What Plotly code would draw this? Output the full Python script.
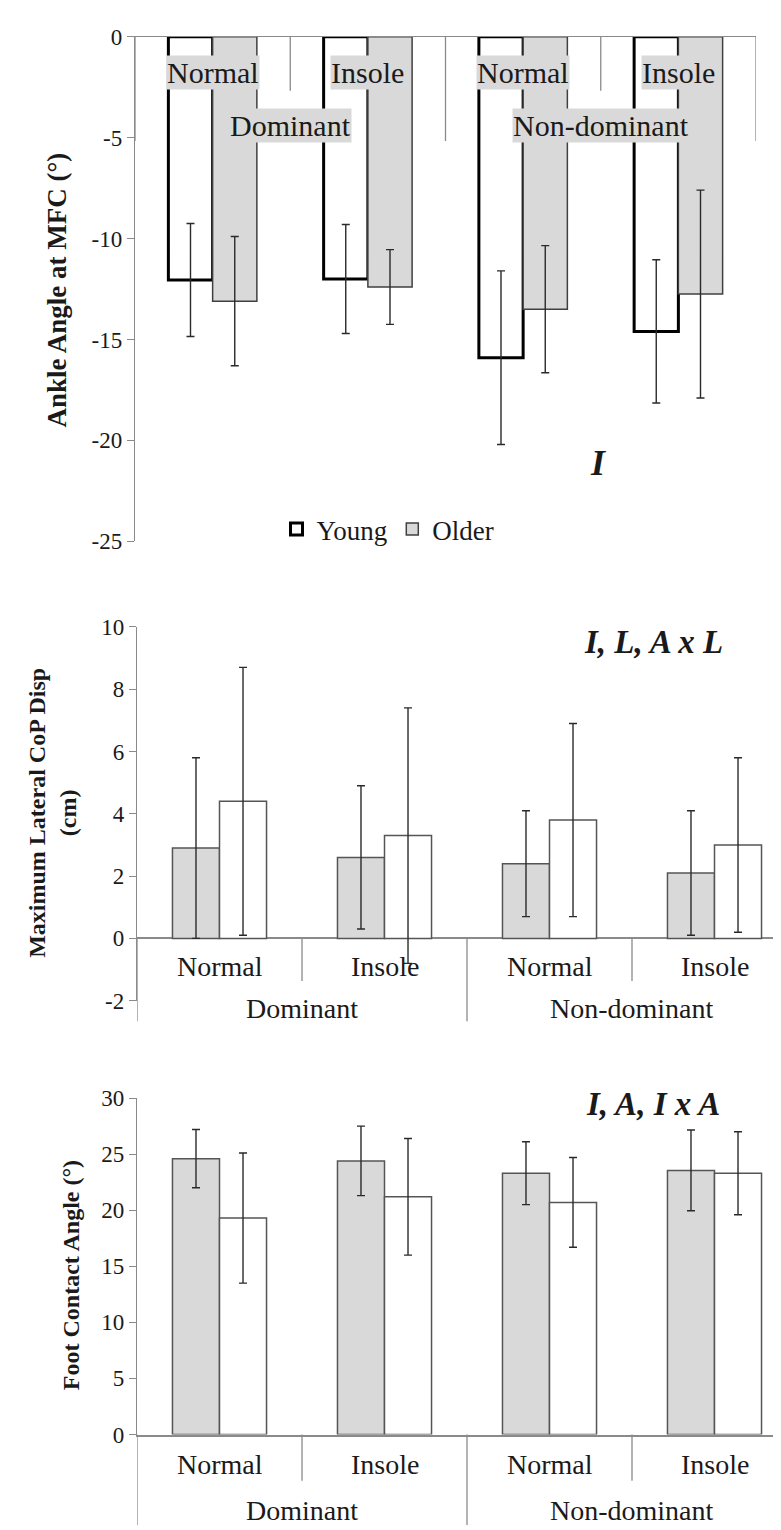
import plotly.graph_objects as go

W, H = 781, 1530

# ---------------- data ----------------
categories = ["Normal", "Insole", "Normal", "Insole"]
groups = ["Dominant", "Non-dominant"]

# Panel 1: Ankle angle at MFC (deg)
ankle_young = [-12.05, -12.0, -15.9, -14.6]
ankle_young_sd = [2.8, 2.7, 4.3, 3.55]
ankle_older = [-13.1, -12.4, -13.5, -12.75]
ankle_older_sd = [3.2, 1.85, 3.15, 5.15]

# Panel 2: Maximum lateral CoP displacement (cm)
cop_first = [2.9, 2.6, 2.4, 2.1]
cop_first_sd = [2.9, 2.3, 1.7, 2.0]
cop_second = [4.4, 3.3, 3.8, 3.0]
cop_second_sd = [4.3, 4.1, 3.1, 2.8]

# Panel 3: Foot contact angle (deg)
fca_first = [24.6, 24.4, 23.3, 23.55]
fca_first_sd = [2.6, 3.1, 2.8, 3.6]
fca_second = [19.3, 21.2, 20.7, 23.3]
fca_second_sd = [5.8, 5.2, 4.0, 3.7]

ticks1 = [0, -5, -10, -15, -20, -25]
ticktext1 = ["0", "-5", "-10", "-15", "-20", "-25"]
ticks2 = [-2, 0, 2, 4, 6, 8, 10]
ticktext2 = ["-2", "0", "2", "4", "6", "8", "10"]
ticks3 = [0, 5, 10, 15, 20, 25, 30]
ticktext3 = ["0", "5", "10", "15", "20", "25", "30"]

titles = ["Ankle Angle at MFC (°)",
          "Maximum Lateral CoP Disp<br>(cm)",
          "Foot Contact Angle (°)"]
effects = ["I", "I, L, A x L", "I, A, I x A"]

# ---------------- style ----------------
FONT = "serif"
TXT = "#1a1a1a"
AXC = "#8a8a8a"
GRAY = "#d9d9d9"
EDGE = "#555555"
ERR = "#2a2a2a"


def fnt(size, weight="normal", style="normal", family=FONT):
    return dict(family=family, size=size, color=TXT, weight=weight, style=style)


def py(px):
    """pixel row -> paper fraction"""
    return 1 - px / H


def px_x(px):
    return px / W


fig = go.Figure()
xs = list(range(len(categories)))


def err(arr):
    return dict(type="data", array=arr, visible=True, color=ERR, thickness=1.4, width=4)


# panel 1
fig.add_trace(go.Bar(x=xs, y=ankle_young, error_y=err(ankle_young_sd), name="Young",
                     marker=dict(color="white", line=dict(color="black", width=3)),
                     xaxis="x", yaxis="y", showlegend=True))
fig.add_trace(go.Bar(x=xs, y=ankle_older, error_y=err(ankle_older_sd), name="Older",
                     marker=dict(color=GRAY, line=dict(color="#404040", width=1.5)),
                     xaxis="x", yaxis="y", showlegend=True))
# panel 2
fig.add_trace(go.Bar(x=xs, y=cop_first, error_y=err(cop_first_sd), name="Young",
                     marker=dict(color=GRAY, line=dict(color=EDGE, width=1.5)),
                     xaxis="x2", yaxis="y2", showlegend=False))
fig.add_trace(go.Bar(x=xs, y=cop_second, error_y=err(cop_second_sd), name="Older",
                     marker=dict(color="white", line=dict(color=EDGE, width=1.5)),
                     xaxis="x2", yaxis="y2", showlegend=False))
# panel 3
fig.add_trace(go.Bar(x=xs, y=fca_first, error_y=err(fca_first_sd), name="Young",
                     marker=dict(color=GRAY, line=dict(color=EDGE, width=1.5)),
                     xaxis="x3", yaxis="y3", showlegend=False))
fig.add_trace(go.Bar(x=xs, y=fca_second, error_y=err(fca_second_sd), name="Older",
                     marker=dict(color="white", line=dict(color=EDGE, width=1.5)),
                     xaxis="x3", yaxis="y3", showlegend=False))

# axis geometry
dom_y1 = [py(530), py(17)]
dom_y2 = [py(997), py(617)]
dom_y3 = [py(1438), py(1096)]
rng_y1 = [-25, 0]
rng_y2 = [-2, 10]
rng_y3 = [0, 30]
dom_x1 = [px_x(127), px_x(748)]
dom_x23 = [px_x(129), 1.0]
cw = 165.0
rng_x23 = [-0.5, -0.5 + (W - 129) / cw]

yaxis_common = dict(showline=True, linecolor=AXC, linewidth=1.3, ticks="outside",
                    ticklen=7, tickcolor=AXC, tickwidth=1.3, showgrid=False,
                    tickfont=fnt(23))
xaxis_common = dict(showgrid=False, showticklabels=False, ticks="", zeroline=False)

fig.update_layout(
    xaxis=dict(domain=dom_x1, range=[-0.5, 3.5], anchor="y", side="top", showline=True,
               linecolor=AXC, linewidth=1.3, **xaxis_common),
    yaxis=dict(domain=dom_y1, range=rng_y1, anchor="x", tickvals=ticks1, ticktext=ticktext1,
               zeroline=False, **yaxis_common),
    xaxis2=dict(domain=dom_x23, range=rng_x23, anchor="y2", showline=False, **xaxis_common),
    yaxis2=dict(domain=dom_y2, range=rng_y2, anchor="x2", tickvals=ticks2, ticktext=ticktext2,
                zeroline=True, zerolinecolor=AXC, zerolinewidth=1.5, **yaxis_common),
    xaxis3=dict(domain=dom_x23, range=rng_x23, anchor="y3", side="bottom", showline=True,
                linecolor=AXC, linewidth=1.5, **xaxis_common),
    yaxis3=dict(domain=dom_y3, range=rng_y3, anchor="x3", tickvals=ticks3, ticktext=ticktext3,
                zeroline=False, **yaxis_common),
)


def val2paper(v, dom, rng):
    return dom[0] + (v - rng[0]) / (rng[1] - rng[0]) * (dom[1] - dom[0])


shapes = []
annotations = []

panels = [
    # xref, dom_y, rng_y, short_end_px, long_end_px, cat_label_px, group_label_px, fontsize, bg
    ("x", dom_y1, rng_y1, 72, 123, 53, 107, 30, GRAY),
    ("x2", dom_y2, rng_y2, 977, 1018, 962, 1005, 28, None),
    ("x3", dom_y3, rng_y3, 1485, 1530, 1468, 1515, 28, None),
]

for xref, dy, ry, s_end, l_end, cat_px, grp_px, fs, bg in panels:
    y0 = val2paper(0, dy, ry)
    for xb in [-0.5, 0.5, 1.5, 2.5, 3.5]:
        is_long = xb in (-0.5, 1.5, 3.5)
        shapes.append(dict(type="line", xref=xref, yref="paper", x0=xb, x1=xb,
                           y0=y0, y1=py(l_end if is_long else s_end),
                           line=dict(color=AXC, width=1.3), layer="below"))
    for i, c in enumerate(categories):
        a = dict(x=i, y=py(cat_px), xref=xref, yref="paper", text=c, showarrow=False,
                 xanchor="center", yanchor="middle", font=fnt(fs))
        if bg:
            a.update(bgcolor=bg, borderpad=0)
        annotations.append(a)
    for j, g in enumerate(groups):
        a = dict(x=2 * j + 0.5, y=py(grp_px), xref=xref, yref="paper", text=g, showarrow=False,
                 xanchor="center", yanchor="middle", font=fnt(fs))
        if bg:
            a.update(bgcolor=bg, borderpad=0)
        annotations.append(a)

# y-axis titles
title_pos = [(49, 275, 27), (45, 806, 24), (63, 1276, 24)]
for t, (tx, ty, fs) in zip(titles, title_pos):
    annotations.append(dict(x=px_x(tx), y=py(ty), xref="paper", yref="paper", text=t,
                            textangle=-90, showarrow=False, xanchor="center", yanchor="middle",
                            font=fnt(fs, "bold")))

# effect labels
eff_pos = [(590, 450, 36), (645, 632, 33), (645, 1102, 33)]
for t, (tx, ty, fs) in zip(effects, eff_pos):
    annotations.append(dict(x=px_x(tx), y=py(ty), xref="paper", yref="paper", text=t,
                            showarrow=False, xanchor="center", yanchor="middle",
                            font=fnt(fs, "bold", "italic")))

fig.update_layout(
    width=W, height=H,
    margin=dict(l=0, r=0, t=0, b=0),
    paper_bgcolor="white", plot_bgcolor="white",
    barmode="group", bargap=0.43, bargroupgap=0,
    shapes=shapes, annotations=annotations,
    showlegend=True,
    legend=dict(orientation="h", x=px_x(380), y=py(518), xanchor="center", yanchor="middle",
                font=fnt(27), itemwidth=30,
                bgcolor="rgba(0,0,0,0)", tracegroupgap=0),
    font=fnt(16),
)

fig.write_html("out.html")
